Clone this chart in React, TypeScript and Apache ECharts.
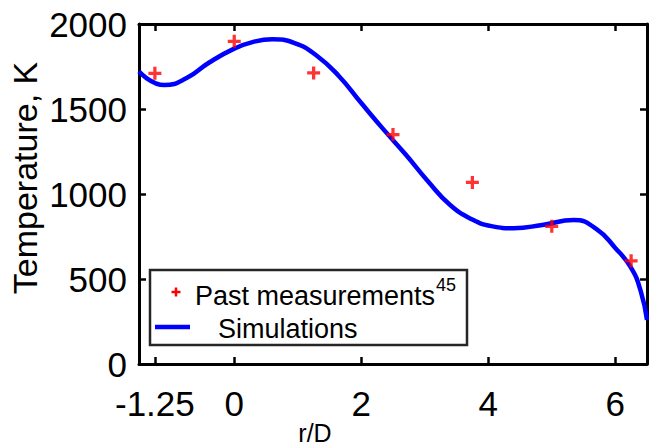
import React, { useEffect, useRef } from "react";
import * as echarts from "echarts";

const xTicks = [-1.25, 0, 2, 4, 6];
const yTicks = [0, 500, 1000, 1500, 2000];

const measX = [-1.25, 0, 1.25, 2.5, 3.75, 5, 6.25];
const measY = [1710, 1898, 1712, 1350, 1068, 810, 607];

const simX = [-1.5, -1.1, -0.75, -0.4, 0, 0.3, 0.6, 0.95, 1.3, 1.65, 2.0, 2.35, 2.7, 3.05, 3.4, 3.75, 4.05, 4.4, 4.85, 5.35, 5.7, 6.0, 6.25, 6.4, 6.5];
const simY = [1720, 1641, 1682, 1772, 1855, 1895, 1910, 1888, 1813, 1693, 1535, 1380, 1232, 1075, 935, 850, 811, 799, 818, 847, 795, 683, 565, 430, 259];

const FONT = "'Liberation Sans', Arial, sans-serif";
const PLUS = "path://M3.75,0 H6.25 V3.75 H10 V6.25 H6.25 V10 H3.75 V6.25 H0 V3.75 H3.75 Z";

export default function App() {
  const ref = useRef<HTMLDivElement>(null);
  useEffect(() => {
    if (!ref.current) return;
    const chart = echarts.init(ref.current, undefined, { renderer: "svg" });
    const axisLine = { show: true, onZero: false, lineStyle: { color: "#000", width: 3 } };
    const tickStyle = { color: "#000", width: 2.5 };
    chart.setOption({
      animation: false,
      backgroundColor: "#fff",
      grid: { left: 139, top: 24, right: 2, bottom: 83, containLabel: false },
      xAxis: [
        {
          type: "value", min: -1.5, max: 6.5, position: "bottom",
          axisLine, splitLine: { show: false },
          axisTick: { show: true, inside: true, length: 7, lineStyle: tickStyle, customValues: xTicks },
          axisLabel: {
            show: true, customValues: xTicks, fontSize: 35, color: "#000", fontFamily: FONT, margin: 22,
            formatter: (v: number) => String(v),
          },
        },
        {
          type: "value", min: -1.5, max: 6.5, position: "top",
          axisLine, splitLine: { show: false },
          axisTick: { show: true, inside: true, length: 7, lineStyle: tickStyle, customValues: xTicks },
          axisLabel: { show: false },
        },
      ],
      yAxis: [
        {
          type: "value", min: 0, max: 2000, interval: 500, position: "left",
          axisLine, splitLine: { show: false },
          axisTick: { show: true, inside: true, length: 7, lineStyle: tickStyle, customValues: yTicks },
          axisLabel: {
            show: true, customValues: yTicks, fontSize: 35, color: "#000", fontFamily: FONT, margin: 12,
            formatter: (v: number) => String(v),
          },
        },
        {
          type: "value", min: 0, max: 2000, interval: 500, position: "right",
          axisLine, splitLine: { show: false },
          axisTick: { show: true, inside: true, length: 7, lineStyle: tickStyle, customValues: yTicks },
          axisLabel: { show: false },
        },
      ],
      series: [
        {
          name: "Simulations",
          type: "line",
          data: simX.map((x, i) => [x, simY[i]]),
          smooth: 0.5,
          showSymbol: false,
          clip: true,
          lineStyle: { color: "#0000FF", width: 4.5 },
          z: 2,
        },
        {
          name: "Past measurements",
          type: "scatter",
          data: measX.map((x, i) => [x, measY[i]]),
          symbol: PLUS,
          symbolSize: 13,
          itemStyle: { color: "#FF0000" },
          z: 3,
        },
      ],
      graphic: [
        {
          type: "text", x: 25, y: 178, rotation: Math.PI / 2, z: 10,
          style: { text: "Temperature, K", fontSize: 34, fontFamily: FONT, fill: "#000", textAlign: "center", textVerticalAlign: "middle", align: "center", verticalAlign: "middle" },
        },
        {
          type: "text", x: 315, y: 433, z: 10,
          style: { text: "r/D", fontSize: 25, fontFamily: FONT, fill: "#000", textAlign: "center", textVerticalAlign: "middle", align: "center", verticalAlign: "middle" },
        },
        {
          type: "group", z: 100,
          children: [
            { type: "rect", z: 100, shape: { x: 150, y: 270, width: 317, height: 75 }, style: { fill: "#fff", stroke: "#262626", lineWidth: 2.5 } },
            { type: "line", z: 101, shape: { x1: 171.5, y1: 292, x2: 180.5, y2: 292 }, style: { stroke: "#FF0000", lineWidth: 2.5 } },
            { type: "line", z: 101, shape: { x1: 176, y1: 287.5, x2: 176, y2: 296.5 }, style: { stroke: "#FF0000", lineWidth: 2.5 } },
            { type: "line", z: 101, shape: { x1: 155, y1: 327, x2: 190, y2: 327 }, style: { stroke: "#0000FF", lineWidth: 4.5 } },
            { type: "text", z: 101, x: 195, y: 296, style: { text: "Past measurements", fontSize: 27, fontFamily: FONT, fill: "#000", textVerticalAlign: "middle", verticalAlign: "middle" } },
            { type: "text", z: 101, x: 436, y: 285, style: { text: "45", fontSize: 18, fontFamily: FONT, fill: "#000", textVerticalAlign: "middle", verticalAlign: "middle" } },
            { type: "text", z: 101, x: 218, y: 329, style: { text: "Simulations", fontSize: 27, fontFamily: FONT, fill: "#000", textVerticalAlign: "middle", verticalAlign: "middle" } },
          ],
        },
      ],
    });
    return () => chart.dispose();
  }, []);
  return <div ref={ref} style={{ position: "fixed", left: 0, top: 0, width: 649, height: 447 }} />;
}
